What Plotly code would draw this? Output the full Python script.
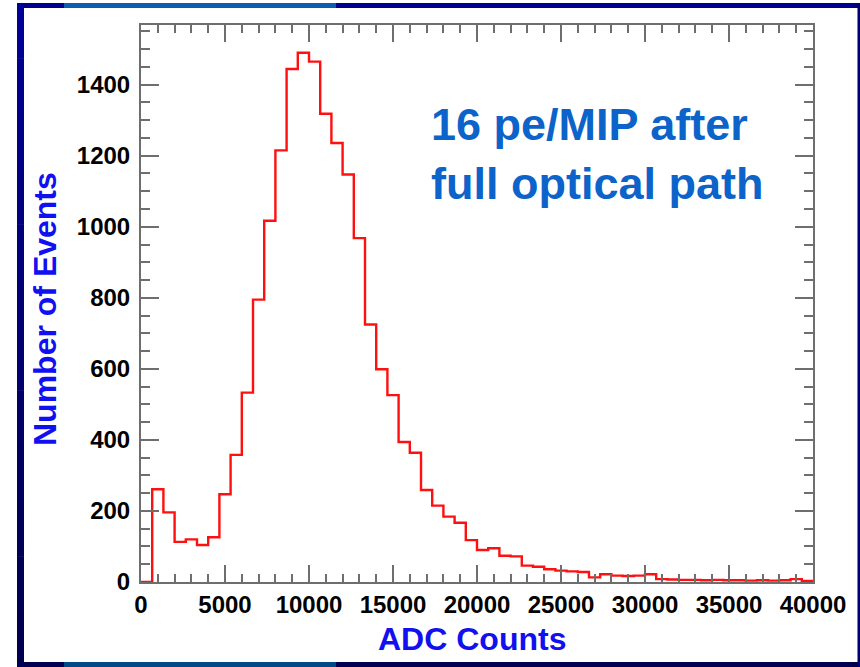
import numpy as np
import plotly.graph_objects as go

# ---- data ----
x_min, x_max, n_bins = 0, 40000, 60
counts = [0, 261, 196, 113, 120, 104, 126, 247, 358, 533,
          795, 1017, 1215, 1444, 1490, 1465, 1318, 1236, 1147, 968,
          725, 599, 526, 394, 364, 259, 215, 184, 167, 118,
          90, 95, 74, 72, 46, 43, 36, 32, 30, 28,
          13, 22, 18, 17, 18, 22, 8, 7, 6, 6,
          5, 6, 5, 5, 4, 5, 4, 5, 8, 3]
x_ticks = [0, 5000, 10000, 15000, 20000, 25000, 30000, 35000, 40000]
y_ticks = [0, 200, 400, 600, 800, 1000, 1200, 1400]
y_top = 1568
x_title = "ADC Counts"
y_title = "Number of Events"
note_text = "16 pe/MIP after<br>full optical path"

edges = np.linspace(x_min, x_max, n_bins + 1)
step_y = list(counts) + [counts[-1]]

# ---- layout geometry (pixels) ----
W, H = 860, 667
L, R, T, B = 141, 47, 25, 85
pw, ph = W - L - R, H - T - B


def fx(px):
    return (px - L) / pw


def fy(py):
    return (H - B - py) / ph


fig = go.Figure()
fig.add_trace(go.Scatter(
    x=edges, y=step_y, mode="lines", line_shape="hv",
    line=dict(color="#ff1010", width=2.4), hoverinfo="skip", showlegend=False))

tickfont = dict(family="Liberation Sans, Arial, sans-serif", size=24, color="black", weight="bold")
axis_common = dict(showline=True, linecolor="#6e6e6e", linewidth=2, mirror="allticks",
                   ticks="inside", tickcolor="#6e6e6e", tickwidth=1.5,
                   showgrid=False, zeroline=False, tickfont=tickfont)

fig.update_xaxes(range=[x_min, x_max], tickvals=x_ticks, ticktext=[str(v) for v in x_ticks],
                 ticklen=17, minor=dict(dtick=1000, ticklen=8, ticks="inside", tickcolor="#6e6e6e", tickwidth=1.5, showgrid=False),
                 ticklabelstandoff=0, **axis_common)
fig.update_yaxes(range=[0, y_top], tickvals=y_ticks, ticktext=[str(v) for v in y_ticks],
                 ticklen=18, minor=dict(dtick=50, ticklen=9, ticks="inside", tickcolor="#6e6e6e", tickwidth=1.5, showgrid=False),
                 ticklabelstandoff=4, **axis_common)

title_font = dict(family="Liberation Sans, Arial, sans-serif", size=32, color="#1010f0", weight="bold")
annotations = [
    dict(text=x_title, x=fx(472), y=fy(639), xref="paper", yref="paper",
         showarrow=False, xanchor="center", yanchor="middle", font=title_font),
    dict(text=y_title, x=fx(45), y=fy(309), xref="paper", yref="paper",
         showarrow=False, xanchor="center", yanchor="middle", textangle=-90, font=title_font),
    dict(text=note_text, x=fx(429), y=fy(97), xref="paper", yref="paper",
         showarrow=False, xanchor="left", yanchor="top", align="left",
         font=dict(family="Liberation Sans, Arial, sans-serif", size=45, color="#0c63c9", weight="bold")),
]


def rect(x0, y0, x1, y1, color):
    return dict(type="rect", xref="paper", yref="paper", x0=fx(x0), x1=fx(x1),
                y0=fy(y1), y1=fy(y0), fillcolor=color, line=dict(width=0), layer="above")


shapes = [
    rect(17, 3, 859, 8, "#00008f"),
    rect(64, 3, 336, 8, "#0a5db2"),
    rect(17, 662, 860, 667, "#00004e"),
    rect(64, 662, 336, 667, "#004a88"),
    rect(857.5, 3, 860, 667, "#00006a"),
]
# left band with a vertical gradient from navy to dark navy
n_seg = 12
for i in range(n_seg):
    y0 = 3 + (667 - 3) * i / n_seg
    y1 = 3 + (667 - 3) * (i + 1) / n_seg + 0.5
    t = i / (n_seg - 1)
    b_c = int(0x95 + (0x4e - 0x95) * t)
    shapes.append(rect(17, y0, 24, y1, f"rgb(0,0,{b_c})"))

fig.update_layout(
    width=W, height=H,
    margin=dict(l=L, r=R, t=T, b=B, autoexpand=False),
    paper_bgcolor="white", plot_bgcolor="white",
    annotations=annotations, shapes=shapes,
)

fig.write_html("out.html")
